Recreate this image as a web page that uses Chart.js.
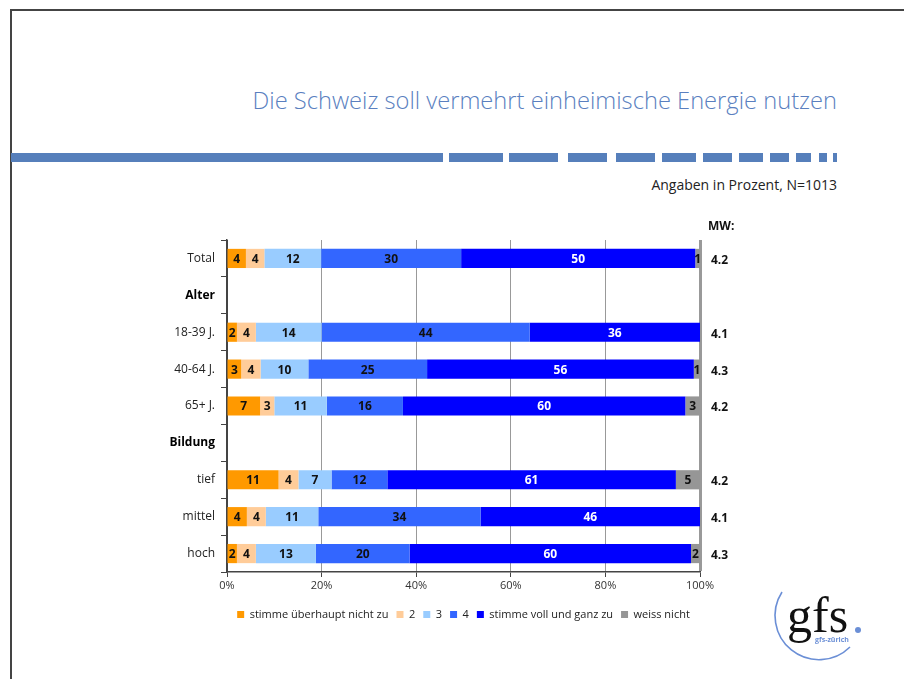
<!DOCTYPE html>
<html>
<head>
<meta charset="utf-8">
<script src="https://cdn.jsdelivr.net/npm/chart.js@4.4.0/dist/chart.umd.min.js"></script>
<style>
  html, body { margin: 0; padding: 0; background: #fff; }
  body { width: 904px; height: 679px; position: relative; overflow: hidden; font-family: "Open Sans", sans-serif; }
  #frameTop { position: absolute; left: 10px; top: 9px; width: 894px; height: 2px; background: #444; }
  #frameLeft { position: absolute; left: 10px; top: 9px; width: 2px; height: 670px; background: #444; }
  #title { position: absolute; right: 67px; top: 84px; font-size: 23.7px; font-weight: 300; color: #5a7fbf; white-space: nowrap; }
  #source { position: absolute; right: 67px; top: 175px; font-size: 14px; color: #222; white-space: nowrap; }
  .dash { position: absolute; top: 153px; height: 9px; background: #567fbb; }
  #chartBox { position: absolute; left: 0; top: 0; width: 904px; height: 679px; }
  #logo { position: absolute; left: 760px; top: 580px; }
</style>
</head>
<body>
<div id="frameTop"></div>
<div id="frameLeft"></div>
<div id="title">Die Schweiz soll vermehrt einheimische Energie nutzen</div>
<div id="source">Angaben in Prozent, N=1013</div>
<div id="chartBox"><canvas id="chart" width="904" height="679"></canvas></div>
<svg id="logo" width="130" height="95">
  <path d="M 22 12 A 44 44 0 0 0 90 67" stroke="#6b8fd6" stroke-width="1.6" fill="none"/>
  <text x="27" y="52" font-family="Liberation Serif, serif" font-size="50" fill="#111">gfs</text>
  <circle cx="98" cy="50" r="3" fill="#6b8fd6"/>
  <text x="55" y="62" font-family="Open Sans, sans-serif" font-size="7" font-weight="bold" fill="#6b8fd6">gfs-zürich</text>
</svg>
<script>
const rows = ["Total", "Alter", "18-39 J.", "40-64 J.", "65+ J.", "Bildung", "tief", "mittel", "hoch"];
const boldRows = ["Alter", "Bildung"];

const gar = [4.0, null, 2.1, 3.0, 7.0, null, 10.9, 4.2, 2.1];
const zwei = [3.9, null, 4.0, 4.1, 3.0, null, 4.2, 4.0, 4.0];
const drei = [12.0, null, 13.9, 10.1, 11.1, null, 7.0, 11.1, 12.7];
const vier = [29.6, null, 44.0, 25.1, 16.1, null, 11.8, 34.3, 19.8];
const voll = [49.5, null, 36.0, 56.4, 59.7, null, 61.0, 46.4, 59.5];
const weissNicht = [1.0, null, 0, 1.3, 3.1, null, 5.1, 0, 1.9];

const mw = ["4.2", null, "4.1", "4.3", "4.2", null, "4.2", "4.1", "4.3"];
const xTicks = [0, 20, 40, 60, 80, 100];

// decorative band under the title: [left, right]
const dashes = [[11, 443], [449, 503], [509, 558], [568, 607], [616, 655], [662, 696],
  [703, 732], [739, 763], [770, 789], [796, 811], [819, 827], [833, 837]];
dashes.forEach(function (d) {
  const el = document.createElement("div");
  el.className = "dash";
  el.style.left = d[0] + "px";
  el.style.width = (d[1] - d[0]) + "px";
  document.body.appendChild(el);
});

const FONT = '"Open Sans", sans-serif';

const valueLabels = {
  id: "valueLabels",
  afterDatasetsDraw(chart) {
    const ctx = chart.ctx;
    ctx.save();
    ctx.font = "bold 12px " + FONT;
    ctx.textAlign = "center";
    ctx.textBaseline = "middle";
    chart.data.datasets.forEach(function (ds, di) {
      const meta = chart.getDatasetMeta(di);
      meta.data.forEach(function (bar, i) {
        const v = ds.data[i];
        if (!v) return;
        const p = bar.getProps(["x", "y", "base"], true);
        ctx.fillStyle = di === 4 ? "#fff" : "#111";
        ctx.fillText(String(Math.round(v)), (p.x + p.base) / 2, p.y + 1);
      });
    });
    ctx.restore();
  }
};

const mwColumn = {
  id: "mwColumn",
  afterDraw(chart) {
    const ctx = chart.ctx;
    const y = chart.scales.y;
    ctx.save();
    ctx.fillStyle = "#111";
    ctx.font = "bold 12px " + FONT;
    ctx.textAlign = "left";
    ctx.textBaseline = "middle";
    ctx.fillText("MW:", 708, 227);
    mw.forEach(function (v, i) {
      if (v) ctx.fillText(v, 711, y.getPixelForValue(i) + 2);
    });
    ctx.restore();
  }
};

function bar(label, data, color) {
  return { label: label, data: data, backgroundColor: color, borderWidth: 0, barPercentage: 0.52, categoryPercentage: 1 };
}

new Chart(document.getElementById("chart").getContext("2d"), {
  type: "bar",
  data: {
    labels: rows,
    datasets: [
      bar("stimme überhaupt nicht zu", gar, "#ff9900"),
      bar("2", zwei, "#ffcc99"),
      bar("3", drei, "#99ccff"),
      bar("4", vier, "#3366ff"),
      bar("stimme voll und ganz zu", voll, "#0000ff"),
      bar("weiss nicht", weissNicht, "#969696")
    ]
  },
  options: {
    indexAxis: "y",
    responsive: false,
    animation: false,
    layout: { padding: { top: 240, right: 204, bottom: 49, left: 150 } },
    scales: {
      x: {
        stacked: true,
        min: 0,
        max: 100,
        afterBuildTicks: function (scale) { scale.ticks = xTicks.map(function (v) { return { value: v }; }); },
        afterFit: function (scale) { scale.height = 29; },
        ticks: { callback: function (v) { return v + "%"; }, font: { size: 11, family: FONT }, color: "#333", padding: 2, maxRotation: 0 },
        grid: {
          color: function (c) { return c.index === 0 ? "#444" : "#999"; },
          lineWidth: function (c) { return c.index === 5 ? 3 : 1; },
          tickLength: 5,
          tickColor: "#444",
          tickWidth: 1
        },
        border: { color: "#444", width: 1.5 }
      },
      y: {
        stacked: true,
        afterFit: function (scale) { scale.width = 77; },
        ticks: {
          color: function (c) { return boldRows.indexOf(rows[c.index]) >= 0 ? "#000" : "#222"; },
          font: function (c) { return { size: 12, family: FONT, weight: boldRows.indexOf(rows[c.index]) >= 0 ? "bold" : "normal" }; },
          padding: 6
        },
        grid: { drawOnChartArea: false, drawTicks: true, tickLength: 6, tickColor: "#444", offset: true },
        border: { color: "#444", width: 1.5 }
      }
    },
    plugins: {
      legend: {
        position: "bottom",
        fullSize: false,
        labels: { boxWidth: 7, boxHeight: 7, padding: 8, color: "#222", font: { size: 11, family: FONT } }
      },
      tooltip: { enabled: false }
    }
  },
  plugins: [valueLabels, mwColumn]
});
</script>
</body>
</html>
